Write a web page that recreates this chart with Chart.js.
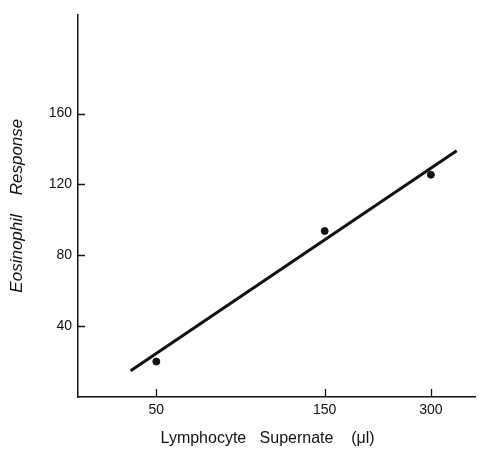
<!DOCTYPE html>
<html>
<head>
<meta charset="utf-8">
<script src="https://cdn.jsdelivr.net/npm/chart.js@4/dist/chart.umd.min.js"></script>
<style>
  html, body { margin: 0; padding: 0; background: #fff; }
  #wrap { width: 480px; height: 453px; }
</style>
</head>
<body>
<div id="wrap"><canvas id="chart" width="480" height="453"></canvas></div>
<script>
// measured points (supernate volume in ul, eosinophil response)
const supernate = [50, 150, 300];
const response = [20, 93.7, 125.5];

// fitted line end points
const fitX = [42.3, 355];
const fitY = [14.8, 139];

const xTicks = [50, 150, 300];
const yTicks = [40, 80, 120, 160];

const INK = '#111';

// small tick marks drawn inward from the axes
const innerTicks = {
    id: 'innerTicks',
    afterDraw(chart) {
        const ctx = chart.ctx;
        const x = chart.scales.x, y = chart.scales.y;
        const area = chart.chartArea;
        ctx.save();
        ctx.strokeStyle = INK;
        ctx.lineWidth = 1.3;
        ctx.beginPath();
        yTicks.forEach(v => {
            const py = Math.round(y.getPixelForValue(v)) + 0.5;
            ctx.moveTo(area.left, py);
            ctx.lineTo(area.left + 7, py);
        });
        xTicks.forEach(v => {
            const px = Math.round(x.getPixelForValue(v)) + 0.5;
            ctx.moveTo(px, area.bottom);
            ctx.lineTo(px, area.bottom - 8);
        });
        ctx.stroke();
        ctx.restore();
    }
};

new Chart(document.getElementById('chart').getContext('2d'), {
    type: 'scatter',
    data: {
        datasets: [
            {
                label: 'fit',
                data: fitX.map((v, i) => ({ x: v, y: fitY[i] })),
                showLine: true,
                borderColor: INK,
                borderWidth: 3,
                pointRadius: 0
            },
            {
                label: 'points',
                data: supernate.map((v, i) => ({ x: v, y: response[i] })),
                backgroundColor: INK,
                borderColor: INK,
                pointRadius: 3.5
            }
        ]
    },
    options: {
        responsive: false,
        animation: false,
        layout: { padding: { top: 12, right: 0, bottom: 0, left: 0 } },
        plugins: {
            legend: { display: false },
            tooltip: { enabled: false }
        },
        scales: {
            x: {
                type: 'logarithmic',
                min: 30,
                max: 400,
                afterBuildTicks: s => { s.ticks = xTicks.map(v => ({ value: v })); },
                afterFit: s => { s.height = 56; },
                grid: { display: false, drawTicks: false },
                border: { display: true, color: INK, width: 1.5 },
                ticks: {
                    color: INK,
                    padding: 5,
                    maxRotation: 0,
                    autoSkip: false,
                    font: { family: 'Liberation Sans', size: 14 },
                    callback: v => String(v)
                },
                title: {
                    display: true,
                    text: 'Lymphocyte   Supernate    (\u03bcl)    ',
                    color: INK,
                    font: { family: 'Liberation Sans', size: 16 },
                    padding: { top: 0, bottom: 5 }
                }
            },
            y: {
                min: 0,
                max: 216,
                afterBuildTicks: s => { s.ticks = yTicks.map(v => ({ value: v })); },
                afterFit: s => { s.width = 78; },
                grid: { display: false, drawTicks: false },
                border: { display: true, color: INK, width: 1.5 },
                ticks: {
                    color: INK,
                    padding: 6,
                    font: { family: 'Liberation Sans', size: 14 }
                },
                title: {
                    display: true,
                    text: 'Eosinophil    Response',
                    color: INK,
                    font: { family: 'Liberation Sans', size: 17, style: 'italic' },
                    padding: { top: 7, bottom: 0 }
                }
            }
        }
    },
    plugins: [innerTicks]
});
</script>
</body>
</html>
